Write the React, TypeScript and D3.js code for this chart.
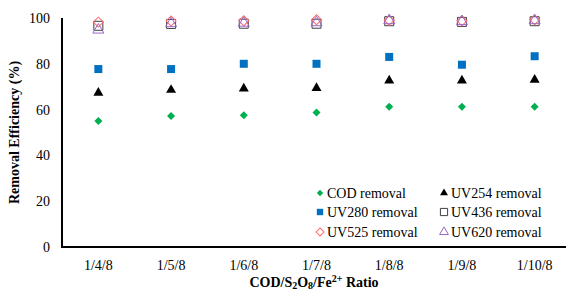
import React from 'react';
import * as d3 from 'd3';

const ratios = ['1/4/8', '1/5/8', '1/6/8', '1/7/8', '1/8/8', '1/9/8', '1/10/8'];
const codRemoval = [55, 57.2, 57.5, 58.7, 61.2, 61.2, 61.2];
const uv254Removal = [67.3, 68.6, 69.2, 69.4, 72.7, 72.7, 73.0];
const uv280Removal = [77.7, 77.7, 80.0, 80.0, 83.0, 79.6, 83.3];
const uv436Removal = [96.6, 97.4, 97.5, 97.5, 98.6, 98.3, 98.6];
const uv525Removal = [98.2, 98.7, 98.8, 99.2, 99.0, 98.8, 99.2];
const uv620Removal = [94.8, 97.6, 97.8, 98.0, 98.9, 98.5, 98.9];
const yTicks = [0, 20, 40, 60, 80, 100];

const W = 566;
const H = 293;

type Series = {
  label: string;
  values: number[];
  shape: 'diamond' | 'square' | 'triangle';
  fill: string;
  stroke: string;
  size: number;
};

const series: Series[] = [
  { label: 'COD removal', values: codRemoval, shape: 'diamond', fill: '#00B050', stroke: 'none', size: 8 },
  { label: 'UV254 removal', values: uv254Removal, shape: 'triangle', fill: '#000000', stroke: 'none', size: 10 },
  { label: 'UV280 removal', values: uv280Removal, shape: 'square', fill: '#0070C0', stroke: 'none', size: 8 },
  { label: 'UV436 removal', values: uv436Removal, shape: 'square', fill: 'none', stroke: '#404040', size: 9 },
  { label: 'UV525 removal', values: uv525Removal, shape: 'diamond', fill: 'none', stroke: '#FF6B6B', size: 10 },
  { label: 'UV620 removal', values: uv620Removal, shape: 'triangle', fill: 'none', stroke: '#9966CC', size: 11 },
];

const FONT = '"Liberation Serif", "Times New Roman", Times, serif';

// w is the marker width in px
function markerPath(shape: Series['shape'], w: number): string {
  if (shape === 'square') return d3.symbol(d3.symbolSquare, w * w)() as string;
  if (shape === 'diamond') {
    const s = w / Math.SQRT2;
    return d3.symbol(d3.symbolSquare, s * s)() as string;
  }
  return d3.symbol(d3.symbolTriangle, (w * w * Math.sqrt(3)) / 4)() as string;
}

function Marker({ s, x, y, scale = 1 }: { s: Series; x: number; y: number; scale?: number }) {
  const rot = s.shape === 'diamond' ? ' rotate(45)' : '';
  return (
    <path
      d={markerPath(s.shape, s.size * scale)}
      transform={`translate(${x},${y})${rot}`}
      fill={s.fill}
      stroke={s.stroke}
      strokeWidth={s.stroke === 'none' ? 0 : 1}
    />
  );
}

export default function App() {
  const left = 62;
  const top = 18;
  const bottom = 247;

  const x = d3.scaleBand<string>().domain(ratios).range([left, 571]).padding(0);
  const y = d3.scaleLinear().domain([0, 100]).range([bottom, top]);
  const cx = (c: string) => (x(c) as number) + x.bandwidth() / 2;

  const txt = { fontFamily: FONT };
  const legendCols = [320, 444];
  const legendRows = [193, 212, 232];

  return (
    <svg width={W} height={H} style={{ position: 'absolute', left: 0, top: 0, fontFamily: FONT }}>
      <rect width={W} height={H} fill="#fff" />

      {/* axes */}
      <line x1={left} x2={left} y1={top} y2={bottom} stroke="#000" strokeWidth={2} />
      <line x1={left - 1} x2={W} y1={bottom} y2={bottom} stroke="#000" strokeWidth={2} />

      {yTicks.map((t) => (
        <text key={t} x={50} y={y(t) + 5} textAnchor="end" fontSize={14} fill="#000" style={txt}>
          {t}
        </text>
      ))}
      {ratios.map((r) => (
        <text key={r} x={cx(r)} y={270} textAnchor="middle" fontSize={14} fill="#000" style={txt}>
          {r}
        </text>
      ))}

      <text x={314} y={287} textAnchor="middle" fontSize={14} fontWeight="bold" style={txt}>
        COD/S<tspan fontSize={10} dy={2}>2</tspan>
        <tspan dy={-2}>O</tspan>
        <tspan fontSize={10} dy={2}>8</tspan>
        <tspan dy={-2}>/Fe</tspan>
        <tspan fontSize={10} dy={-5}>2+</tspan>
        <tspan dy={5}> Ratio</tspan>
      </text>
      <text
        transform={`translate(19,${(top + bottom) / 2}) rotate(-90)`}
        textAnchor="middle"
        fontSize={14}
        fontWeight="bold"
        style={txt}
      >
        Removal Efficiency (%)
      </text>

      {/* points */}
      {series.map((s) => (
        <g key={s.label}>
          {s.values.map((v, i) => (
            <Marker key={i} s={s} x={cx(ratios[i])} y={y(v)} />
          ))}
        </g>
      ))}

      {/* legend */}
      {series.map((s, i) => {
        const lx = legendCols[i % 2];
        const ly = legendRows[Math.floor(i / 2)];
        return (
          <g key={s.label}>
            <Marker s={s} x={lx} y={ly} scale={0.8} />
            <text x={lx + 7} y={ly + 5} fontSize={14} fill="#000" style={txt}>
              {s.label}
            </text>
          </g>
        );
      })}
    </svg>
  );
}
